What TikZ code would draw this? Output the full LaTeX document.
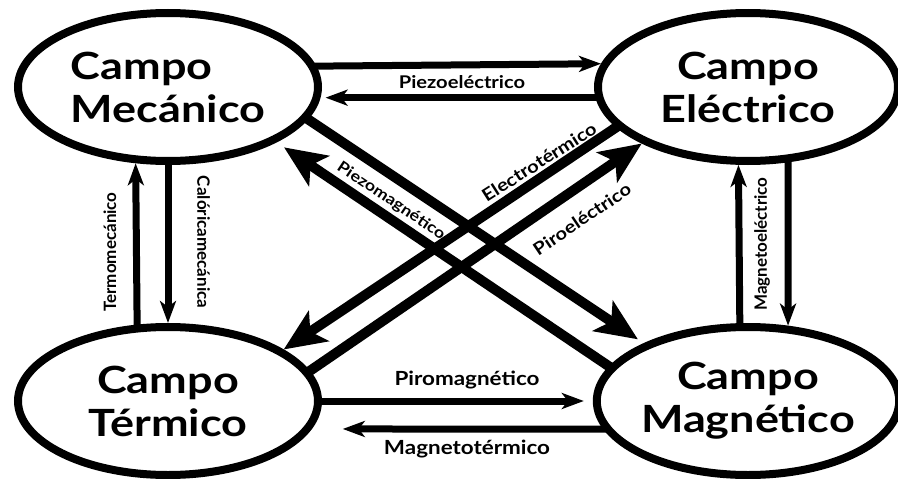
\documentclass[tikz,border=0pt]{standalone}
\usepackage{fontspec}
\setmainfont{Lato}
\newfontfamily\titlefont{Lato}[FakeStretch=1.2]
\newfontfamily\labelfont{Lato}[FakeStretch=1.15]
\newfontfamily\vlabelfont{Lato}
\usetikzlibrary{arrows.meta,shapes.geometric,backgrounds}

\tikzset{
  field/.style={ellipse, draw, line width=8pt, fill=white,
    minimum width=300pt, minimum height=148pt, inner sep=0pt,
    align=center, font=\titlefont\bfseries\fontsize{37.5}{43}\selectfont},
  link/.style={line width=7pt, shorten <=-5pt,
    -{Stealth[length=22pt,width=16pt,inset=6pt]}},
  cross/.style={line width=10pt, shorten <=-6pt,
    -{Stealth[length=42pt,width=36pt,inset=10pt]}},
  lbl/.style={inner sep=0pt, font=\labelfont\bfseries\fontsize{17.5}{19}\selectfont},
  lblbig/.style={inner sep=0pt, font=\labelfont\bfseries\fontsize{19.5}{21}\selectfont},
  dlbl/.style={inner sep=0pt, font=\labelfont\bfseries\fontsize{17.5}{20}\selectfont},
  vlbl/.style={inner sep=0pt, font=\vlabelfont\bfseries\fontsize{17}{19}\selectfont},
}

\begin{document}
\begin{tikzpicture}[x=1pt, y=-1pt]
  \useasboundingbox (0,0) rectangle (898,479);

  % the four fields
  \node[field, align=left] (TL) at (168,87) {Campo\\Mecánico};
  \node[field] (TR) at (748,87)  {Campo\\Eléctrico};
  \node[field] (BL) at (168,401) {Campo\\Térmico};
  \node[field] (BR) at (748,401) {Campo\\Magnético};

  \begin{scope}[on background layer]
    \fill[white] (0,0) rectangle (898,479);
    % mechanical <-> electrical
    \draw[link] (TL.8.2) -- (TR.171.8);
    \draw[link, shorten >=5pt] (TR.184.6) -- (TL.-4.6);
    % thermal <-> mechanical
    \draw[link] (BL.112.3) -- (TL.247.7);
    \draw[link] (TL.south) -- (BL.north);
    % magnetic <-> electrical
    \draw[link] (BR.96.6) -- (TR.263.4);
    \draw[link] (TR.-62) -- (BR.62);
    % thermal <-> magnetic
    \draw[link, shorten >=9pt] (BL.east) -- (BR.west);
    \draw[link, shorten >=31pt] (BR.191.5) -- (BL.-11.5);
    % diagonals
    \draw[cross, shorten >=7pt] (TL.-13.3) -- (BR.151.5);
    \draw[cross, shorten >=9pt] (BR.166.3) -- (TL.-27.7);
    \draw[cross] (TR.197.4) -- (BL.24.7);
    \draw[cross] (BL.12.1) -- (TR.208.1);
  \end{scope}

  % effect names
  \node[lbl] (piezoel) at (462,82)  {Piezoeléctrico};
  \node[lblbig] (piromag) at (467,380) {Piromagnético};
  \node[lblbig] (magterm) at (467,449) {Magnetotérmico};
  \node[vlbl, rotate=90]  (termmec) at (110,252) {Termomecánico};
  \node[vlbl, rotate=-90] (calmec)  at (203.5,242) {Calóricamecánica};
  \node[vlbl, rotate=90]  (magel)   at (762,244) {Magnetoeléctrico};
  \node[dlbl, rotate=-33.8, font=\labelfont\bfseries\fontsize{15.5}{18}\selectfont]
    (piezomag) at (391,201) {Piezomagnético};
  \node[dlbl, rotate=32.5]  (electerm) at (539,162) {Electrotérmico};
  \node[dlbl, rotate=34]    (piroel)   at (582,219) {Piroeléctrico};
\end{tikzpicture}
\end{document}
